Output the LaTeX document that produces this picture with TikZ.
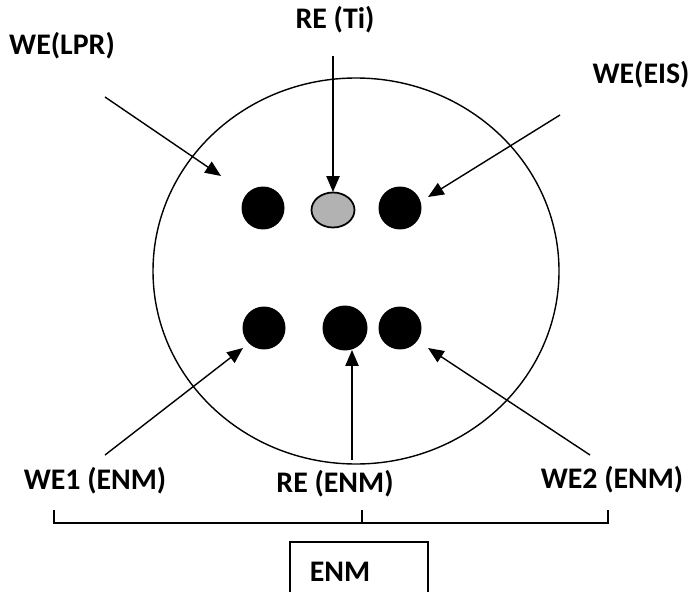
\documentclass[tikz,border=0pt]{standalone}
\usepackage{fontspec}
\setmainfont{Carlito}
\usetikzlibrary{arrows.meta,shapes.geometric,patterns}
\begin{document}
\begin{tikzpicture}[x=0.02cm,y=-0.02cm,
  lbl/.style={font=\fontsize{17}{20}\selectfont\bfseries, inner sep=0pt},
  dot/.style={circle, fill=black, inner sep=0pt, minimum size=0.86cm},
  arr/.style={-{Triangle[length=9pt,width=7.5pt]}, line width=0.8pt},
  thin/.style={line width=0.7pt}]
\useasboundingbox (0,0) rectangle (699,591);
% electrode body
\draw[line width=0.8pt] (356,271) ellipse [x radius=203, y radius=193];
% top row
\node[dot] (lpr) at (263,208) {};
\node[draw=black, line width=1pt, ellipse, fill=gray!60, inner sep=0pt, minimum width=0.86cm, minimum height=0.7cm] (reti) at (333,210) {};
\node[dot] (eis) at (400,208) {};
% bottom row
\node[dot] (we1) at (264,328) {};
\node[dot, minimum size=0.9cm] (reenm) at (345,328) {};
\node[dot] (we2) at (400,328) {};
% labels
\node[lbl] (tlpr) at (62,46) {WE(LPR)};
\node[lbl] (tret) at (335,20) {RE (Ti)};
\node[lbl] (teis) at (641,75) {WE(EIS)};
\node[lbl] (twe1) at (95,481) {WE1 (ENM)};
\node[lbl] (tre) at (335,484) {RE (ENM)};
\node[lbl] (twe2) at (612,480) {WE2 (ENM)};
% arrow ends
\coordinate (a1) at (105,97);  \coordinate (b1) at (221,176);
\coordinate (a2) at (333,56);  \coordinate (b2) at (333,192);
\coordinate (a3) at (560,115); \coordinate (b3) at (428,197);
\coordinate (a4) at (105,455); \coordinate (b4) at (243,348);
\coordinate (a5) at (352,460); \coordinate (b5) at (352,350);
\coordinate (a6) at (590,455); \coordinate (b6) at (428,348);
\draw[arr] (a1) -- (b1);
\draw[arr] (a2) -- (b2);
\draw[arr] (a3) -- (b3);
\draw[arr] (a4) -- (b4);
\draw[arr] (a5) -- (b5);
\draw[arr] (a6) -- (b6);
% bracket
\coordinate (k1) at (54,510); \coordinate (k2) at (608,510); \coordinate (km) at (362,510);
\draw[thin] (k1) -- (54,523) -- (608,523) -- (k2);
\draw[thin] (km) -- (362,523);
% ENM box
\node[lbl] (enm) at (340,572) {ENM};
\draw[thin] (290,600) -- (290,542) -- (428,542) -- (428,600);
\end{tikzpicture}
\end{document}
